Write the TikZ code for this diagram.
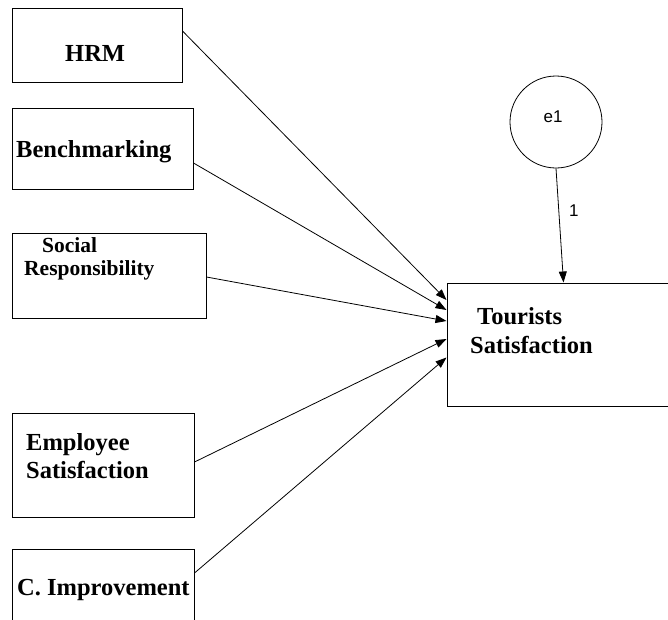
\documentclass[tikz,border=0pt]{standalone}
\usepackage{fontspec}
\setmainfont{Liberation Serif}
\setsansfont{Liberation Sans}
\usetikzlibrary{arrows.meta,calc}
\tikzset{
  box/.style={draw=black, line width=1pt, rectangle, inner sep=0pt},
  lbl/.style={font=\fontsize{24.5}{26}\selectfont\bfseries, inner sep=0pt, anchor=base west},
  slbl/.style={font=\fontsize{21.5}{23}\selectfont\bfseries, inner sep=0pt, anchor=base west},
  sans/.style={font=\sffamily\fontsize{17}{19}\selectfont, inner sep=0pt},
  conn/.style={draw=black, line width=0.8pt, -{Triangle[length=11pt,width=8pt]}},
}
\begin{document}
\begin{tikzpicture}[x=1pt,y=-1pt]
\useasboundingbox (0,0) rectangle (668,619);
\clip (0,0) rectangle (668,619);
\fill[white] (0,0) rectangle (668,619);
% boxes
\node[box, minimum width=170pt, minimum height=74pt] (hrm) at (97,45) {};
\node[box, minimum width=181pt, minimum height=81pt] (bench) at (102.5,148.5) {};
\node[box, minimum width=194pt, minimum height=85pt] (social) at (109,275.5) {};
\node[box, minimum width=182pt, minimum height=104pt] (emp) at (103,465) {};
\node[box, minimum width=182pt, minimum height=91pt] (ci) at (103,594.5) {};
\node[box, minimum width=233pt, minimum height=123pt] (ts) at (563.5,344.5) {};
\node[draw=black, line width=0.8pt, circle, minimum size=92pt, inner sep=0pt] (e1) at (556,122) {};
% texts
\node[lbl] (thrm) at (65,61) {HRM};
\node[lbl] (tbench) at (16,157) {Benchmarking};
\node[slbl] (tsoc1) at (42,252) {Social};
\node[slbl] (tsoc2) at (24,275) {Responsibility};
\node[lbl] (temp1) at (26,450) {Employee};
\node[lbl] (temp2) at (26,478) {Satisfaction};
\node[lbl] (tci) at (17,595) {C. Improvement};
\node[lbl] (tts1) at (477,324) {Tourists};
\node[lbl] (tts2) at (470,353) {Satisfaction};
\node[sans] (te1) at (553,117) {e1};
% connectors
\draw[conn] ([yshift=14pt]hrm.east) -- ([yshift=44.5pt]ts.west);
\draw[conn] ([yshift=-14.5pt]bench.east) -- ([yshift=34.5pt]ts.west);
\draw[conn] ([yshift=-1.5pt]social.east) -- ([yshift=23.5pt]ts.west);
\draw[conn] ([yshift=3pt]emp.east) -- ([yshift=5.5pt]ts.west);
\draw[conn] ([yshift=21.5pt]ci.east) -- ([yshift=-13pt]ts.west);
\draw[conn] (e1.south) -- node[sans, right=10pt, pos=0.37] (one) {1} (ts.north);
\end{tikzpicture}
\end{document}
